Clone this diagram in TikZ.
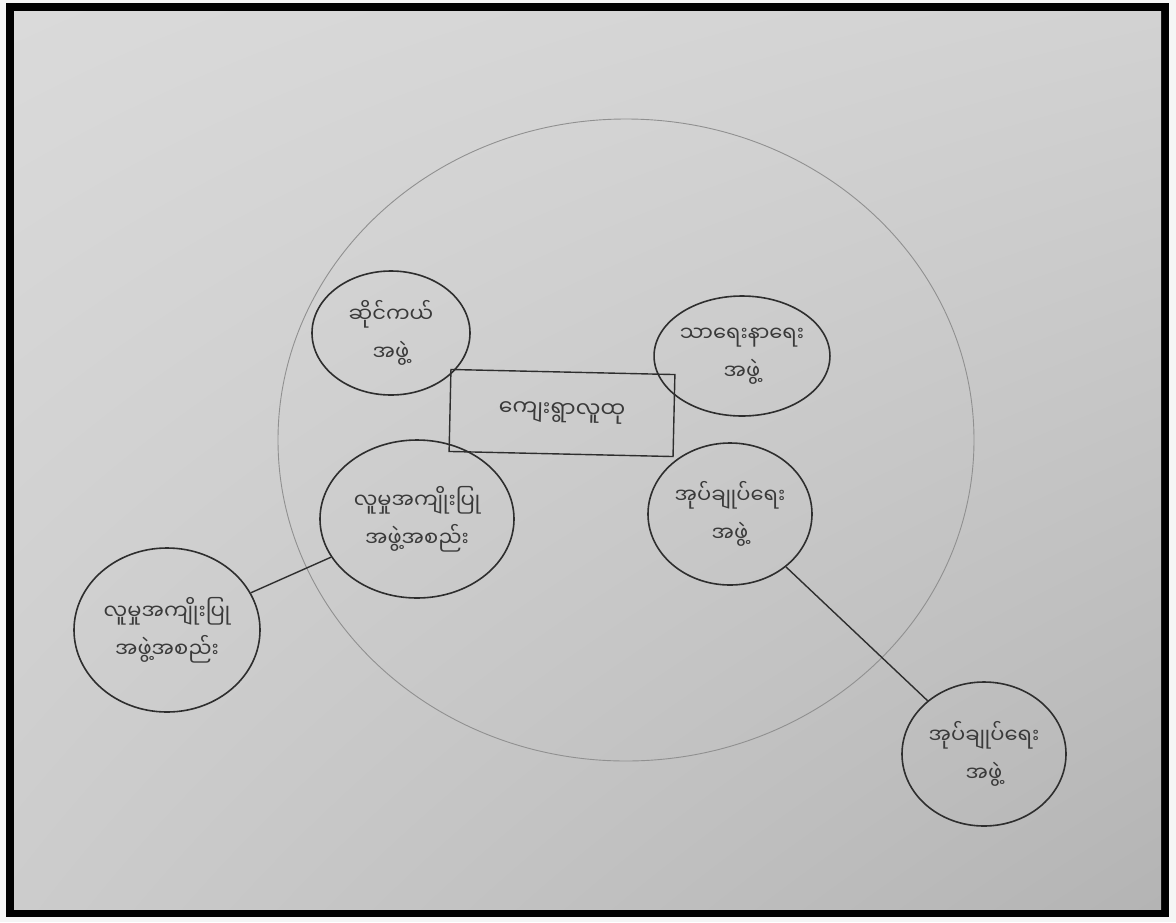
\documentclass[tikz,border=0pt]{standalone}
\usepackage{fontspec}
\newfontfamily\mm[Script=Myanmar]{Noto Sans Myanmar UI}
\usetikzlibrary{shapes.geometric,shadings}
\definecolor{ink}{HTML}{2E2E2E}
\definecolor{txt}{HTML}{3A3A3A}
\definecolor{faint}{HTML}{909090}
\definecolor{bgul}{RGB}{218,218,218}
\definecolor{bgur}{RGB}{210,210,210}
\definecolor{bgll}{RGB}{204,204,204}
\definecolor{bglr}{RGB}{180,180,180}
\begin{document}
\begin{tikzpicture}[x=1pt,y=-1pt,
  grp/.style={ellipse,draw=ink,line width=1.6pt,inner sep=0pt,align=center,
    text=txt,font=\mm\fontsize{21}{38}\selectfont},
  hub/.style={rectangle,draw=ink,line width=1.4pt,inner sep=0pt,
    minimum width=224pt,minimum height=82pt,text=txt,font=\mm\fontsize{22}{38}\selectfont},
  link/.style={draw=ink,line width=1.4pt},
  ring/.style={draw=faint,line width=0.9pt}]
\useasboundingbox (0,0) rectangle (1176,922);
\fill[white!92!gray] (0,0) rectangle (1176,922);
\fill[black] (6,3) rectangle (1169,917);
\shade[upper left=bgul,upper right=bgur,lower left=bgll,lower right=bglr]
  (14,11) rectangle (1161,909);
% outer boundary
\draw[ring] (626,440) ellipse [x radius=348pt, y radius=321pt];
% hub
\node[hub,rotate=-1.3] (hub) at (562,413) {ကျေးရွာလူထု};
% inner groups
\node[grp,minimum width=158pt,minimum height=124pt] (tl) at (391,333) {ဆိုင်ကယ်\\အဖွဲ့};
\node[grp,minimum width=160pt,minimum height=120pt] (tr) at (742,356) {သာရေးနာရေး\\အဖွဲ့};
\node[grp,minimum width=194pt,minimum height=158pt] (bl) at (417,519) {လူမှုအကျိုးပြု\\အဖွဲ့အစည်း};
\node[grp,minimum width=164pt,minimum height=142pt] (br) at (730,514) {အုပ်ချုပ်ရေး\\အဖွဲ့};
% outer groups
\node[grp,minimum width=186pt,minimum height=164pt] (ol) at (167,630) {လူမှုအကျိုးပြု\\အဖွဲ့အစည်း};
\node[grp,minimum width=164pt,minimum height=144pt] (or) at (984,754) {အုပ်ချုပ်ရေး\\အဖွဲ့};
% links
\draw[link] (ol) -- (bl);
\draw[link] (br) -- (or);
\end{tikzpicture}
\end{document}
